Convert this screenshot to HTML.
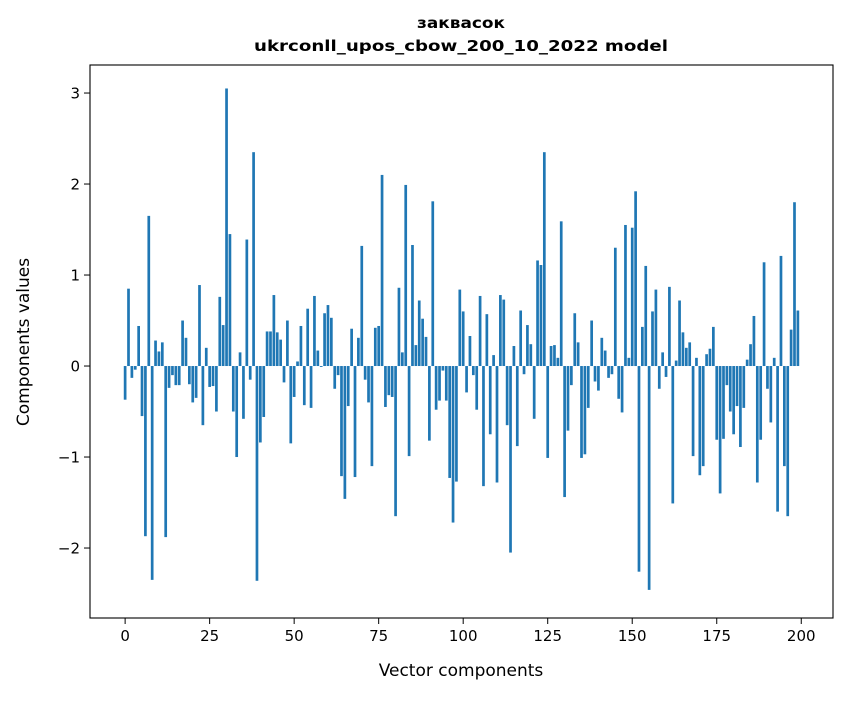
<!DOCTYPE html>
<html><head><meta charset="utf-8"><style>
body{margin:0;background:#fff;}
svg text{font-family:"DejaVu Sans","Liberation Sans",sans-serif;}
</style></head><body>
<svg id="chart" width="847" height="696" xmlns="http://www.w3.org/2000/svg">
<rect width="847" height="696" fill="#fff"/>
<text x="461" y="28" text-anchor="middle" font-size="15" font-weight="bold" textLength="88" lengthAdjust="spacingAndGlyphs">заквасок</text>
<text x="461" y="51" text-anchor="middle" font-size="15" font-weight="bold" textLength="414" lengthAdjust="spacingAndGlyphs">ukrconll_upos_cbow_200_10_2022 model</text>
<g id="bars"></g>
<g id="axes"></g>
<text x="461" y="676" text-anchor="middle" font-size="17">Vector components</text>
<text transform="translate(29,342) rotate(-90)" text-anchor="middle" font-size="17">Components values</text>
</svg>
<script>
const values = [-0.37,0.85,-0.13,-0.04,0.44,-0.55,-1.87,1.65,-2.35,0.28,0.16,0.26,-1.88,-0.24,-0.10,-0.21,-0.21,0.50,0.31,-0.20,
-0.40,-0.35,0.89,-0.65,0.20,-0.23,-0.22,-0.50,0.76,0.45,3.05,1.45,-0.50,-1.00,0.15,-0.58,1.39,-0.15,2.35,-2.36,
-0.84,-0.56,0.38,0.38,0.78,0.37,0.29,-0.18,0.50,-0.85,-0.34,0.05,0.44,-0.43,0.63,-0.46,0.77,0.17,-0.01,0.58,
0.67,0.53,-0.25,-0.10,-1.21,-1.46,-0.44,0.41,-1.22,0.31,1.32,-0.15,-0.40,-1.10,0.42,0.44,2.10,-0.45,-0.32,-0.34,
-1.65,0.86,0.15,1.99,-0.99,1.33,0.23,0.72,0.52,0.32,-0.82,1.81,-0.48,-0.38,-0.05,-0.38,-1.23,-1.72,-1.27,0.84,
0.60,-0.29,0.33,-0.10,-0.48,0.77,-1.32,0.57,-0.75,0.12,-1.28,0.78,0.73,-0.65,-2.05,0.22,-0.88,0.61,-0.09,0.45,
0.24,-0.58,1.16,1.11,2.35,-1.01,0.22,0.23,0.09,1.59,-1.44,-0.71,-0.21,0.58,0.26,-1.01,-0.97,-0.46,0.50,-0.17,
-0.27,0.31,0.17,-0.13,-0.09,1.30,-0.36,-0.51,1.55,0.09,1.52,1.92,-2.26,0.43,1.10,-2.46,0.60,0.84,-0.25,0.15,
-0.12,0.87,-1.51,0.06,0.72,0.37,0.20,0.26,-0.99,0.09,-1.20,-1.10,0.13,0.19,0.43,-0.81,-1.40,-0.80,-0.21,-0.50,
-0.75,-0.44,-0.89,-0.46,0.07,0.24,0.55,-1.28,-0.81,1.14,-0.25,-0.62,0.09,-1.60,1.21,-1.10,-1.65,0.40,1.80,0.61];
const xTicks = [0,25,50,75,100,125,150,175,200];
const yTicks = [-2,-1,0,1,2,3];
const yTickLabels = ["\u22122","\u22121","0","1","2","3"];

const L=90,R=833,T=65,B=618;
const xMin=-10.39,xMax=209.39,yMin=-2.769,yMax=3.308;
const NS="http://www.w3.org/2000/svg";
function xs(v){return L+(v-xMin)/(xMax-xMin)*(R-L);}
function ys(v){return B-(v-yMin)/(yMax-yMin)*(B-T);}
function mk(tag,attrs,parent){const e=document.createElementNS(NS,tag);for(const k in attrs)e.setAttribute(k,attrs[k]);parent.appendChild(e);return e;}
const bars=document.getElementById('bars');
values.forEach((v,i)=>{
  const x0=xs(i-0.4),x1=xs(i+0.4),y0=ys(Math.max(v,0)),y1=ys(Math.min(v,0));
  const r=mk('rect',{x:x0,y:y0,width:x1-x0,height:Math.max(y1-y0,0.3),fill:'#1f77b4'},bars);
  
  
});
const ax=document.getElementById('axes');
const frame=mk('rect',{x:L,y:T,width:R-L,height:B-T,fill:'none',stroke:'#000','stroke-width':1.1},ax);


xTicks.forEach(t=>{
  const x=xs(t);
  const l=mk('line',{x1:x,x2:x,y1:B,y2:B+6,stroke:'#000','stroke-width':1},ax);
  
  
  const tx=mk('text',{x:x,y:B+23,'text-anchor':'middle','font-size':15},ax);
  tx.textContent=t;
  
  
});
yTicks.forEach((t,i)=>{
  const y=ys(t);
  const l=mk('line',{x1:L-6,x2:L,y1:y,y2:y,stroke:'#000','stroke-width':1},ax);
  
  
  const tx=mk('text',{x:L-10,y:y+5.5,'text-anchor':'end','font-size':15},ax);
  tx.textContent=yTickLabels[i];
  
  
});
</script>
</body></html>
